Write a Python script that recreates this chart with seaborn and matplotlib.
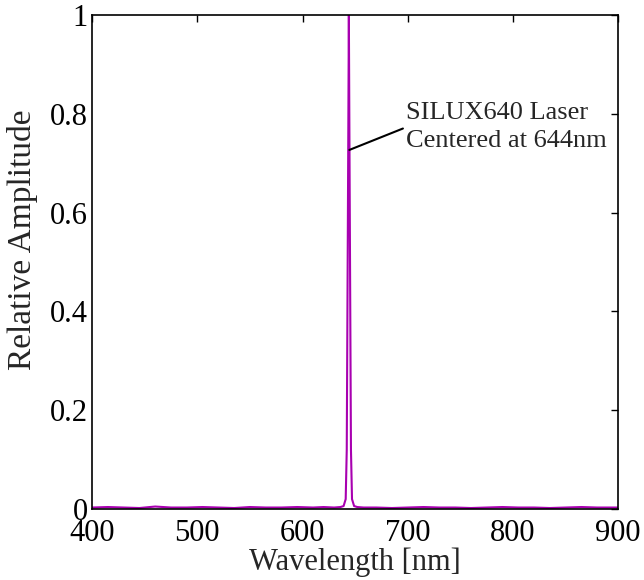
import matplotlib
matplotlib.use("Agg")
import matplotlib.pyplot as plt
import seaborn as sns
import pandas as pd

wavelength = [400, 415, 430, 445, 460, 475, 490, 505, 520, 535, 550, 565, 580,
              595, 610, 620, 630, 636, 639, 641, 642, 643, 643.5, 644, 644.5,
              645, 646, 647, 649, 652, 658, 670, 685, 700, 715, 730, 745, 760,
              775, 790, 805, 820, 835, 850, 865, 880, 900]
amplitude = [0.003, 0.004, 0.003, 0.002, 0.005, 0.003, 0.003, 0.004, 0.003,
             0.002, 0.004, 0.003, 0.003, 0.004, 0.003, 0.004, 0.003, 0.004,
             0.006, 0.02, 0.12, 0.55, 0.77, 1.0, 0.77, 0.55, 0.12, 0.02,
             0.006, 0.004, 0.003, 0.003, 0.002, 0.003, 0.004, 0.003, 0.003,
             0.002, 0.003, 0.004, 0.003, 0.003, 0.002, 0.003, 0.004, 0.003, 0.003]

x_ticks = [400, 500, 600, 700, 800, 900]
y_ticks = [0, 0.2, 0.4, 0.6, 0.8, 1]
y_ticklabels = ["0", "0.2", "0.4", "0.6", "0.8", "1"]
annotation_text = "SILUX640 Laser\nCentered at 644nm"

sns.set_style("white")
plt.rcParams["font.family"] = ["Liberation Serif", "DejaVu Serif"]

df = pd.DataFrame({"Wavelength": wavelength, "Amplitude": amplitude})

fig = plt.figure(figsize=(6.44, 5.80), dpi=100)
ax = fig.add_axes([0.143, 0.1224, 0.817, 0.8516])
sns.lineplot(data=df, x="Wavelength", y="Amplitude", ax=ax, color="#A800B0",
             linewidth=1.5)

ax.set_xlim(400, 900)
ax.set_ylim(0, 1)
ax.set_xticks(x_ticks)
ax.set_yticks(y_ticks)
ax.set_yticklabels(y_ticklabels)
ax.tick_params(direction="in", top=True, right=True, length=5, width=1,
               labelsize=22, colors="black")
ax.tick_params(axis="x", pad=7)
ax.tick_params(axis="y", pad=3)
for s in ax.spines.values():
    s.set_visible(True)
    s.set_color("black")
    s.set_linewidth(1.2)
ax.set_xlabel("Wavelength [nm]", fontsize=22, labelpad=0)
ax.set_ylabel("Relative Amplitude", fontsize=24)
ax.yaxis.set_label_coords(-0.103, 0.545)

ax.annotate(annotation_text, xy=(644.5, 0.727), xytext=(698.5, 0.773),
            fontsize=19, va="center", ha="left", linespacing=1.35,
            arrowprops=dict(arrowstyle="-", color="black", lw=1.5,
                            shrinkA=0, shrinkB=0, relpos=(0, 0.5)))

fig.savefig("out.png", dpi=100, facecolor="white")
